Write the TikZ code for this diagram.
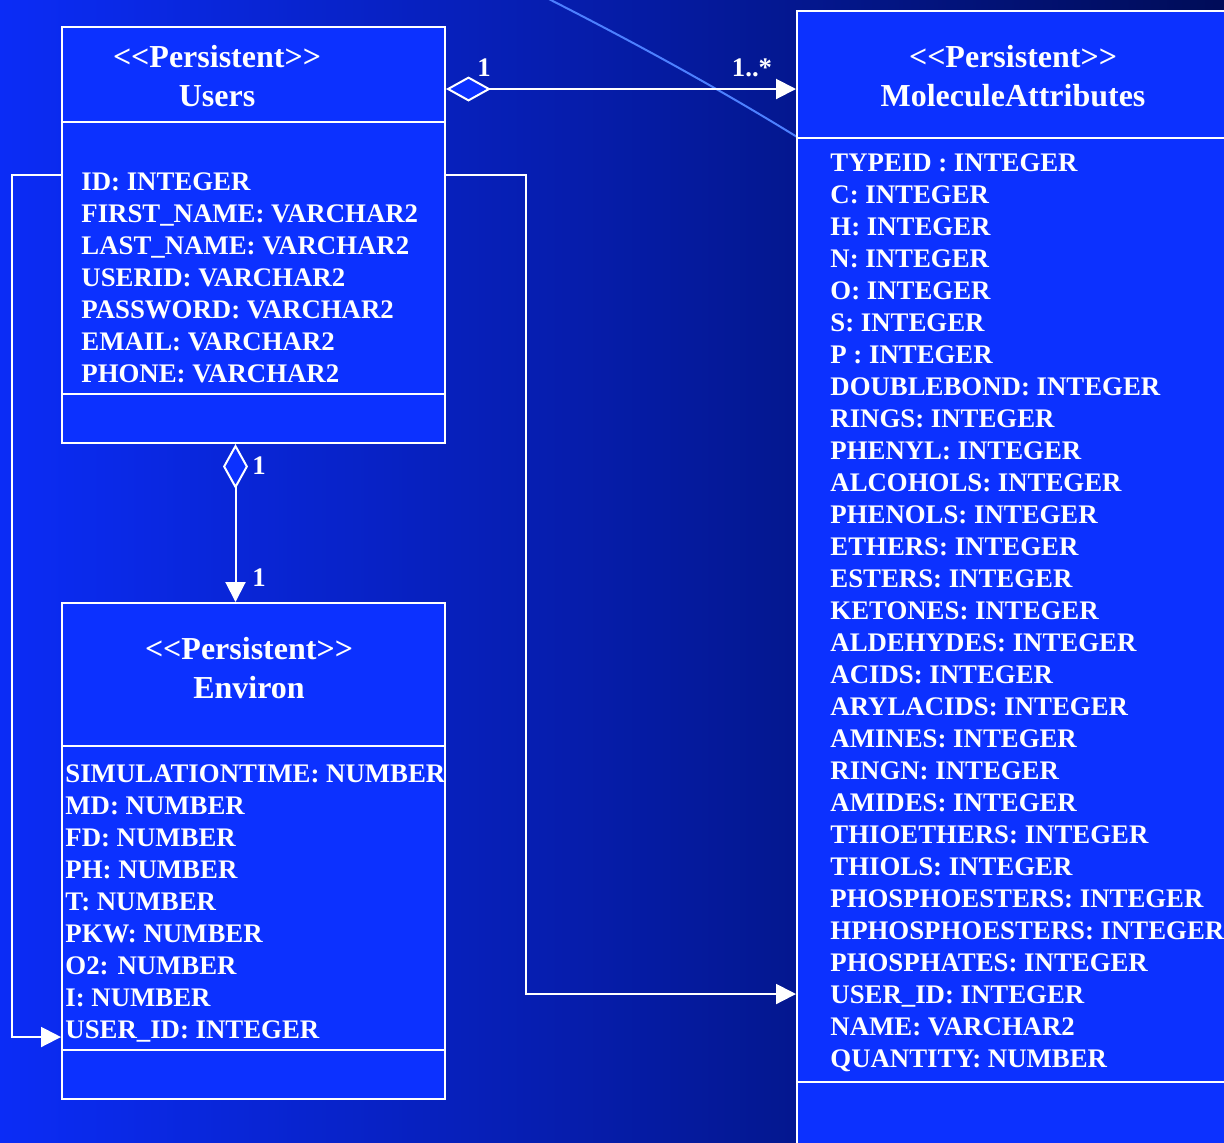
\documentclass[tikz,border=0pt]{standalone}
\usepackage{fontspec}
\setmainfont{Liberation Serif}
\usetikzlibrary{arrows.meta,calc}
\definecolor{boxblue}{HTML}{0C31FF}
\definecolor{bgleft}{HTML}{0B2CF6}
\definecolor{bgmid}{HTML}{0620C8}
\definecolor{bgright}{HTML}{000C58}
\definecolor{arcblue}{HTML}{4D80FF}
\newcommand\stereotype{<\kern0pt<Persistent>\kern0pt>}
\begin{document}
\begin{tikzpicture}[x=0.5pt,y=-0.5pt,
  umlbox/.style={draw=white,line width=1pt,fill=boxblue,rectangle,inner sep=0pt,
    minimum width=#1},
  divider/.style={draw=white,line width=1pt},
  txt/.style={text=white,font=\fontsize{13.4pt}{16pt}\selectfont\bfseries,inner sep=0pt},
  row/.style={txt,anchor=base west},
  title/.style={text=white,font=\fontsize{16pt}{19pt}\selectfont\bfseries,inner sep=0pt,anchor=base},
  conn/.style={draw=white,line width=1pt},
  assoc/.style={conn,-{Triangle[length=10pt,width=10pt,fill=white]}},
  agg/.style={conn,{Diamond[length=22.5pt,width=12.5pt,fill=boxblue,line width=1pt]}-{Triangle[length=10pt,width=10pt,fill=white]}},
]
\useasboundingbox (0,0) rectangle (1224,1142);
% background
\shade[left color=bgleft,middle color=bgmid,right color=bgright] (0,0) rectangle (1224,1142);
% decorative arc
\draw[arcblue,line width=1pt] (535,-8) .. controls (640,45) and (730,95) .. (810,145);

\begin{scope}
\clip (0,0) rectangle (1224,1142);
% class boxes
\node[umlbox=191.5pt,minimum height=208pt] (users) at (253.5,235) {};
\node[umlbox=191.5pt,minimum height=248pt] (environ) at (253.5,851) {};
\node[umlbox=223.5pt,minimum height=574.5pt] (mol) at (1020.5,585.5) {};
\end{scope}

% compartment dividers
\draw[divider] ($(users.north west)+(0,96)$) -- ($(users.north east)+(0,96)$);
\draw[divider] ($(users.north west)+(0,368)$) -- ($(users.north east)+(0,368)$);
\draw[divider] ($(environ.north west)+(0,144)$) -- ($(environ.north east)+(0,144)$);
\draw[divider] ($(environ.north west)+(0,448)$) -- ($(environ.north east)+(0,448)$);
\draw[divider] ($(mol.north west)+(0,128)$) -- ($(mol.north east)+(0,128)$);
\draw[divider] ($(mol.north west)+(0,1072)$) -- ($(mol.north east)+(0,1072)$);

% titles
\node[title] (utitle1) at (217,67.5) {\stereotype};
\node[title] (utitle2) at (217,106.5) {Users};
\node[title] (etitle1) at (249,659.5) {\stereotype};
\node[title] (etitle2) at (249,698.5) {Environ};
\node[title] (mtitle1) at (1013,67.5) {\stereotype};
\node[title] (mtitle2) at (1013,106.5) {MoleculeAttributes};

% attributes
\foreach \t [count=\i from 0] in {ID: INTEGER,FIRST\_NAME: VARCHAR2,LAST\_NAME: VARCHAR2,
  USERID: VARCHAR2,PASSWORD: VARCHAR2,EMAIL: VARCHAR2,PHONE: VARCHAR2}
  \node[row] (ua\i) at (81,190+32*\i) {\t};
\foreach \t [count=\i from 0] in {SIMULATIONTIME: NUMBER,MD: NUMBER,FD: NUMBER,PH: NUMBER,
  T: NUMBER,PKW: NUMBER,O2: NUMBER,I: NUMBER,USER\_ID: INTEGER}
  \node[row] (ea\i) at (65,782+32*\i) {\t};
\foreach \t [count=\i from 0] in {TYPEID : INTEGER,C: INTEGER,H: INTEGER,N: INTEGER,
  O: INTEGER,S: INTEGER,P : INTEGER,DOUBLEBOND: INTEGER,RINGS: INTEGER,PHENYL: INTEGER,
  ALCOHOLS: INTEGER,PHENOLS: INTEGER,ETHERS: INTEGER,ESTERS: INTEGER,KETONES: INTEGER,
  ALDEHYDES: INTEGER,ACIDS: INTEGER,ARYLACIDS: INTEGER,AMINES: INTEGER,RINGN: INTEGER,
  AMIDES: INTEGER,THIOETHERS: INTEGER,THIOLS: INTEGER,PHOSPHOESTERS: INTEGER,
  HPHOSPHOESTERS: INTEGER,PHOSPHATES: INTEGER,USER\_ID: INTEGER,NAME: VARCHAR2,
  QUANTITY: NUMBER}
  \node[row] (ma\i) at (830,171+32*\i) {\t};

% connector end points
\coordinate (aggh) at ($(users.north east)+(0,63)$);
\coordinate (aggv) at ($(users.south west)+(174.5,0)$);
\coordinate (lstart) at ($(users.north west)+(0,149)$);
\coordinate (lend) at ($(environ.south west)+(0,-63)$);
\coordinate (rstart) at ($(users.north east)+(0,149)$);
\coordinate (rend) at ($(mol.north west)+(0,984)$);

% associations
\draw[agg] (aggh) -- (aggh -| mol.west);
\draw[agg] (aggv) -- (aggv |- environ.north);
\draw[assoc] (lstart) -- ++(-49,0) |- (lend);
\draw[assoc] (rstart) -- ++(80,0) |- (rend);

% multiplicities
\node[txt] (m1) at (484,68) {1};
\node[txt] (m2) at (752,68) {1..*};
\node[txt] (m3) at (259,466) {1};
\node[txt] (m4) at (259,578) {1};
\end{tikzpicture}
\end{document}
